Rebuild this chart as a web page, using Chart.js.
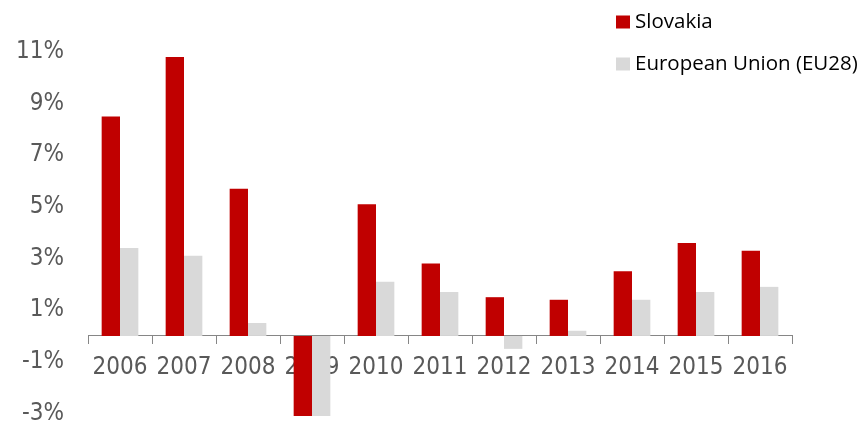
<!DOCTYPE html>
<html>
<head>
<meta charset="utf-8">
<script src="https://cdn.jsdelivr.net/npm/chart.js@4/dist/chart.umd.min.js"></script>
<style>
  html, body { margin: 0; padding: 0; background: #fff; }
  #wrap { width: 862px; height: 423px; position: relative; }
</style>
</head>
<body>
<div id="wrap"><canvas id="chart"></canvas></div>
<script>
const years = ['2006', '2007', '2008', '2009', '2010', '2011', '2012', '2013', '2014', '2015', '2016']
const slovakia = [8.5, 10.8, 5.7, -5.4, 5.1, 2.8, 1.5, 1.4, 2.5, 3.6, 3.3]
const eu28 = [3.4, 3.1, 0.5, -4.3, 2.1, 1.7, -0.5, 0.2, 1.4, 1.7, 1.9]
const yTicks = [-3, -1, 1, 3, 5, 7, 9, 11]

const tickFont = { family: "'DejaVu Sans Condensed', 'DejaVu Sans', sans-serif", size: 24 }
const tickColor = '#595959'
const axisColor = '#868686'

// legend drawn as two stacked rows, top right
const sideLegend = {
  id: 'sideLegend',
  afterDraw: (chart) => {
    const ctx = chart.ctx
    ctx.save()
    ctx.font = "20.5px 'Open Sans', sans-serif"
    ctx.textBaseline = 'middle'
    ctx.textAlign = 'left'
    chart.data.datasets.forEach((ds, i) => {
      const y = 22 + i * 42
      ctx.fillStyle = ds.backgroundColor
      ctx.fillRect(616, y - 6.5, 14, 13)
      ctx.fillStyle = '#000'
      ctx.fillText(ds.label, 635, y)
    })
    ctx.restore()
  },
}

new Chart(document.getElementById('chart'), {
  type: 'bar',
  data: {
    labels: years,
    datasets: [
      {
        label: 'Slovakia',
        data: slovakia,
        backgroundColor: '#C00000',
        categoryPercentage: 0.573,
        barPercentage: 1,
        clip: 0,
      },
      {
        label: 'European Union (EU28)',
        data: eu28,
        backgroundColor: '#D9D9D9',
        categoryPercentage: 0.573,
        barPercentage: 1,
        clip: 0,
      },
    ],
  },
  plugins: [sideLegend],
  options: {
    responsive: true,
    maintainAspectRatio: false,
    animation: false,
    layout: { padding: { top: 26, right: 70, bottom: 7, left: 0 } },
    plugins: {
      legend: { display: false },
      tooltip: { enabled: false },
    },
    scales: {
      x: {
        position: { y: 0 },
        offset: true,
        grid: {
          offset: true,
          drawOnChartArea: false,
          drawTicks: true,
          tickLength: 8,
          color: axisColor,
        },
        border: { display: true, color: axisColor, width: 1 },
        ticks: { font: tickFont, color: tickColor, padding: 9.5, maxRotation: 0, autoSkip: false },
        afterFit: (scale) => {
          scale.height = 0
        },
      },
      y: {
        min: -3.1,
        max: 12,
        grid: { display: false, drawTicks: false },
        border: { display: false },
        afterBuildTicks: (scale) => {
          scale.ticks = yTicks.map((v) => ({ value: v }))
        },
        afterFit: (scale) => {
          scale.width = 88
          scale.paddingTop = 0
          scale.paddingBottom = 0
        },
        ticks: {
          font: tickFont,
          color: tickColor,
          padding: 24,
          callback: (v) => v + '%',
        },
      },
    },
  },
})
</script>
</body>
</html>
